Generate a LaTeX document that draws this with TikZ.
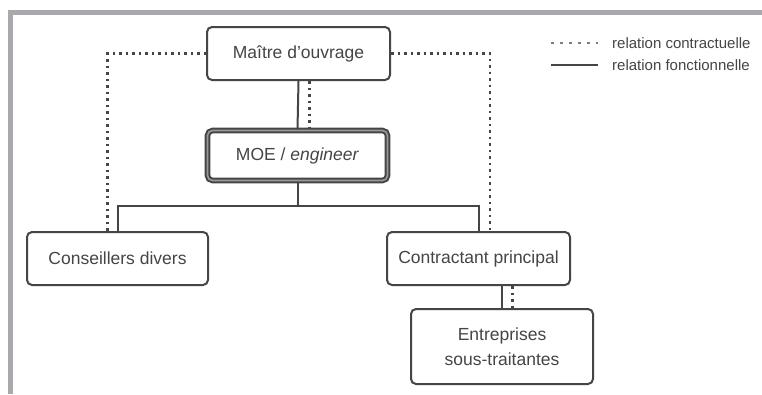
\documentclass[tikz,border=0pt]{standalone}
\usepackage{fontspec}
\setmainfont{Liberation Sans}
\definecolor{frame}{HTML}{A9A9AD}
\definecolor{ink}{HTML}{454545}
\begin{document}
\begin{tikzpicture}[x=1pt,y=-1pt,
  box/.style={draw=ink, line width=2pt, rounded corners=5pt, fill=white, text=ink,
    font=\fontsize{17.5}{25}\selectfont, inner sep=0pt, align=center},
  func/.style={draw=ink, line width=2pt},
  contr/.style={draw=ink, line width=2.2pt, dash pattern=on 2.5pt off 4pt},
  legtext/.style={text=ink, font=\fontsize{15}{17}\selectfont, anchor=west, inner sep=0pt}]
\useasboundingbox (0,0) rectangle (762,394);
\fill[white] (0,0) rectangle (762,394);
% grey frame
\draw[frame, line width=5pt] (10,394) -- (10,12.5) -- (762,12.5);

% nodes
\node[box, minimum width=183pt, minimum height=53pt] (maitre) at (298.5,53.5) {Maître d’ouvrage};
\node[box, minimum width=180pt, minimum height=50pt, line width=2pt, double=ink!55, double distance=1.6pt] (moe) at (297.5,155.5) {MOE / \textit{engineer}};
\node[box, minimum width=181pt, minimum height=53pt] (cons) at (117.5,258.5) {Conseillers divers};
\node[box, minimum width=183pt, minimum height=53pt] (contr) at (478.5,258.5) {Contractant principal};
\node[box, minimum width=182pt, minimum height=75pt] (entr) at (502,346.5) {Entreprises\\sous-traitantes};

% functional relations
\draw[func] (maitre.south) -- (moe.north);
\draw[func] (moe.south) -- ++(0,24) coordinate (j);
\draw[func] (j) -| (cons.north);
\draw[func] (j) -| (contr.north);
\draw[func] (entr.north |- contr.south) -- (entr.north);

% contractual relations
\draw[contr] ([xshift=11pt]maitre.south) -- ([xshift=11pt]maitre.south |- moe.north);
\draw[contr] (maitre.west) -| ([xshift=-10pt]cons.north);
\draw[contr] (maitre.east) -| ([xshift=11.5pt]contr.north);
\draw[contr] ([xshift=10.5pt]entr.north |- contr.south) -- ([xshift=10.5pt]entr.north);

% legend
\coordinate (l1a) at (551,43);
\coordinate (l1b) at (598,43);
\coordinate (l2a) at (551,65);
\coordinate (l2b) at (598,65);
\draw[draw=ink!70, line width=2pt, dash pattern=on 3pt off 6pt] (l1a) -- (l1b);
\draw[draw=ink, line width=2pt] (l2a) -- (l2b);
\node[legtext] (lt1) at (612,43) {relation contractuelle};
\node[legtext] (lt2) at (612,65) {relation fonctionnelle};
\end{tikzpicture}
\end{document}
